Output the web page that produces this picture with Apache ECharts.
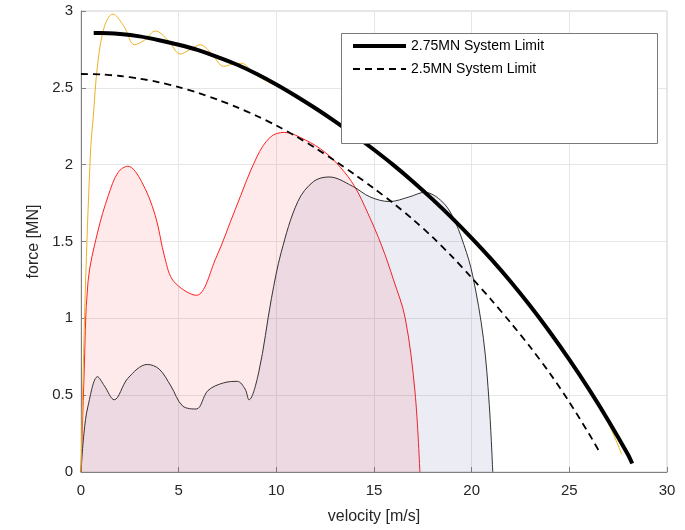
<!DOCTYPE html>
<html><head><meta charset="utf-8">
<script src="https://cdn.jsdelivr.net/npm/echarts@6/dist/echarts.min.js"></script>
<style>html,body{margin:0;padding:0;background:#fff}#c{width:685px;height:530px}</style>
</head><body><div id="c"></div>
<script>
// Data (velocity [m/s], force [MN])
const limit275 = [[0.65,2.857],[1,2.857],[2,2.850],[3,2.835],[4,2.810],[5,2.780],[6,2.745],[7,2.700],[8,2.650],[9,2.590],[10,2.522],[11,2.447],[12,2.367],[13,2.282],[14,2.192],[15,2.097],[16,1.997],[17,1.889],[18,1.774],[19,1.652],[20,1.522],[21,1.385],[22,1.238],[23,1.080],[24,0.911],[25,0.731],[26,0.539],[27,0.334],[28,0.114],[28.22,0.055]];
const limit25 = [[0,2.590],[1,2.587],[2,2.577],[3,2.560],[4,2.536],[5,2.505],[6,2.467],[7,2.423],[8,2.373],[9,2.317],[10,2.255],[11,2.185],[12,2.108],[13,2.025],[14,1.937],[15,1.845],[16,1.748],[17,1.643],[18,1.528],[19,1.401],[20,1.264],[21,1.121],[22,0.971],[23,0.813],[24,0.643],[25,0.455],[26,0.250],[26.57,0.125]];
const orangeCurve = [[0,0],[0.1,0.6],[0.25,1.3],[0.49,2.09],[0.62,2.3],[0.85,2.65],[1.2,2.9],[1.63,2.98],[2.2,2.9],[2.74,2.78],[3.25,2.81],[3.81,2.87],[4.45,2.81],[5.09,2.72],[5.6,2.75],[6.1,2.78],[6.7,2.72],[7.3,2.64],[7.8,2.655],[8.2,2.66],[8.9,2.59],[9.7,2.53],[10.5,2.484],[11,2.447],[12,2.367],[13,2.282],[14,2.192],[15,2.097],[16,1.997],[17,1.889],[18,1.774],[19,1.652],[20,1.522],[21,1.385],[22,1.238],[23,1.080],[24,0.909],[25,0.725],[26,0.527],[27,0.315],[27.68,0.115]];
const redCurve = [[0,0],[0.15,0.6],[0.36,1.24],[0.85,1.56],[1.4,1.80],[1.9,1.95],[2.4,1.99],[3.1,1.89],[3.8,1.67],[4.3,1.39],[4.75,1.24],[5.9,1.15],[6.9,1.39],[7.9,1.71],[9.0,2.05],[9.7,2.18],[10.4,2.21],[11.5,2.16],[12.5,2.08],[13.3,1.98],[14.0,1.86],[14.7,1.68],[15.4,1.47],[16.0,1.25],[16.6,1.0],[17.1,0.52],[17.35,0]];
const blackCurve = [[0,0],[0.15,0.25],[0.36,0.43],[0.85,0.62],[1.2,0.56],[1.7,0.47],[2.4,0.61],[3.4,0.70],[4.0,0.67],[4.6,0.56],[5.2,0.43],[5.9,0.41],[6.5,0.53],[7.3,0.58],[8.0,0.59],[8.4,0.54],[8.6,0.47],[9.1,0.65],[9.75,1.13],[10.25,1.43],[11.1,1.76],[11.9,1.89],[12.7,1.92],[13.9,1.86],[14.8,1.79],[15.8,1.76],[16.8,1.79],[17.6,1.82],[18.4,1.77],[19.0,1.67],[19.6,1.48],[20.05,1.28],[20.6,0.87],[20.9,0.44],[21.08,0]];
const xTicks = {min:0, max:30, interval:5};
const yTicks = {min:0, max:3, interval:0.5};

const chart = echarts.init(document.getElementById('c'), null, {renderer:'canvas'});
const font = "'Liberation Sans', Arial, Helvetica, sans-serif";
const axisCommon = {
  axisLine:{show:true, lineStyle:{color:'#808080', width:1}},
  axisTick:{show:true, inside:true, length:5, lineStyle:{color:'#808080'}},
  axisLabel:{color:'#262626', fontSize:15, fontFamily:font},
  splitLine:{show:true, lineStyle:{color:'#e6e6e6', width:1}},
  nameTextStyle:{color:'#262626', fontSize:16, fontFamily:font}
};
chart.setOption({
  animation:false,
  backgroundColor:'#fff',
  grid:{left:81, right:18, top:11, bottom:57, show:true, borderColor:'#d0d0d0', borderWidth:1, backgroundColor:'transparent'},
  xAxis:Object.assign({type:'value', min:xTicks.min, max:xTicks.max, interval:xTicks.interval,
    name:'velocity [m/s]', nameLocation:'middle', nameGap:37}, axisCommon, {axisLabel:Object.assign({}, axisCommon.axisLabel, {margin:11})}),
  yAxis:Object.assign({type:'value', min:yTicks.min, max:yTicks.max, interval:yTicks.interval,
    name:'force [MN]', nameLocation:'middle', nameGap:39}, axisCommon, {axisLabel:Object.assign({}, axisCommon.axisLabel, {margin:8})}),
  graphic:[{type:'rect', left:341, top:33, z:90, shape:{width:316, height:110},
    style:{fill:'#fff', stroke:'#7a7a7a', lineWidth:1}}],
  legend:{data:[{name:'2.75MN System Limit', lineStyle:{width:4}}, {name:'2.5MN System Limit', lineStyle:{width:1.8}}],
    orient:'vertical', left:351, top:39, z:100,
    itemWidth:53, itemHeight:12, itemGap:9, padding:0,
    itemStyle:{opacity:0},
    textStyle:{fontSize:14, fontFamily:font, color:'#000'}},
  series:[
    {name:'red', type:'line', data:redCurve, smooth:0.35, symbol:'none',
      lineStyle:{color:'#ff2020', width:1}, areaStyle:{color:'rgba(255,60,70,0.15)'}, z:2},
    {name:'black', type:'line', data:blackCurve, smooth:0.35, symbol:'none',
      lineStyle:{color:'#333', width:1}, areaStyle:{color:'rgba(60,60,140,0.14)'}, z:3},
    {name:'orange', type:'line', data:orangeCurve, smooth:0.35, symbol:'none',
      lineStyle:{color:'#EDB120', width:1}, z:4},
    {name:'2.75MN System Limit', type:'line', data:limit275, smooth:0.3, symbol:'none',
      itemStyle:{color:'#000'}, lineStyle:{color:'#000', width:4}, z:5},
    {name:'2.5MN System Limit', type:'line', data:limit25, smooth:0.3, symbol:'none',
      itemStyle:{color:'#000'}, lineStyle:{color:'#000', width:1.8, type:[7,5]}, z:5}
  ]
});
</script></body></html>
